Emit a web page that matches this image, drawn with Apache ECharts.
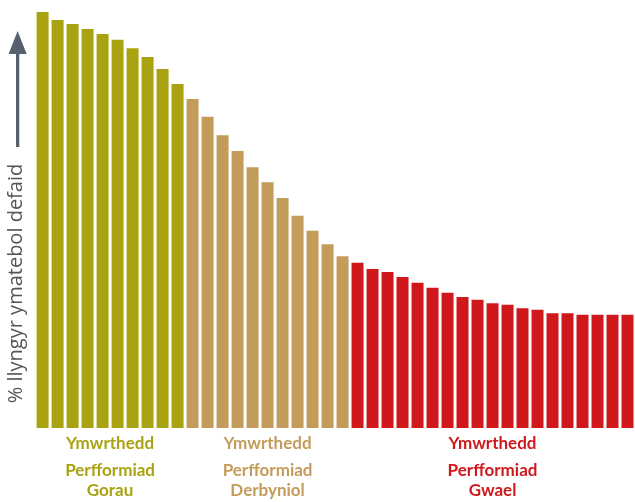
<!DOCTYPE html>
<html><head><meta charset="utf-8">
<script src="https://cdn.jsdelivr.net/npm/echarts@6/dist/echarts.min.js"></script>
<style>html,body{margin:0;padding:0;background:#fff}#c{width:635px;height:502px}</style>
</head><body><div id="c"></div>
<script>
const goodValues = [100, 98.1, 97.1, 95.9, 94.7, 93.3, 91.3, 89.2, 86.3, 82.7];
const fairValues = [79.1, 74.8, 70.4, 66.6, 62.7, 59.1, 55.3, 51.0, 47.4, 44.2, 41.3];
const poorValues = [39.7, 38.2, 37.5, 36.3, 34.9, 33.7, 32.5, 31.5, 30.8, 30.0, 29.6, 28.8, 28.4, 27.6, 27.6, 27.2, 27.2, 27.2, 27.2];
const groupLabels = [
  ['Ymwrthedd', 'Perfformiad', 'Gorau'],
  ['Ymwrthedd', 'Perfformiad', 'Derbyniol'],
  ['Ymwrthedd', 'Perfformiad', 'Gwael']
];
const groupColors = ['#A9A311', '#C39B5A', '#D0181C'];
const yTitle = '% llyngyr ymatebol defaid';

const groups = [goodValues, fairValues, poorValues];
const data = [];
const categories = [];
groups.forEach((g, gi) => g.forEach(v => {
  categories.push(String(categories.length + 1));
  data.push({ value: v, itemStyle: { color: groupColors[gi] } });
}));

const chart = echarts.init(document.getElementById('c'), null, { renderer: 'canvas' });
chart.setOption({
  animation: false,
  grid: { left: 35.1, top: 12, width: 604.4, height: 416 },
  xAxis: { type: 'category', data: categories, show: false },
  yAxis: { type: 'value', min: 0, max: 100, show: false },
  series: [{ type: 'bar', data: data, barWidth: 12 }]
});

// group label positions from the axis scale
const graphics = [];
let start = 0;
groups.forEach((g, gi) => {
  const x0 = chart.convertToPixel({ xAxisIndex: 0 }, categories[start]);
  const x1 = chart.convertToPixel({ xAxisIndex: 0 }, categories[start + g.length - 1]);
  const cx = (x0 + x1) / 2;
  const ys = [443.5, 470.5, 491];
  groupLabels[gi].forEach((t, li) => {
    graphics.push({
      type: 'text', x: cx, y: ys[li],
      style: { text: t, fill: groupColors[gi], font: 'bold 17px Lato', align: 'center', verticalAlign: 'middle' }
    });
  });
  start += g.length;
});
graphics.push({
  type: 'text', x: 16.5, y: 283.5, rotation: Math.PI / 2,
  style: { text: yTitle, fill: '#555555', font: '20px "Open Sans"', align: 'center', verticalAlign: 'middle' }
});
graphics.push({ type: 'rect', shape: { x: 16, y: 52, width: 3.3, height: 95 }, style: { fill: '#56606F' } });
graphics.push({ type: 'polygon', shape: { points: [[17.6, 31], [26.7, 54], [8.6, 54]] }, style: { fill: '#56606F' } });
chart.setOption({ graphic: graphics });
</script></body></html>
